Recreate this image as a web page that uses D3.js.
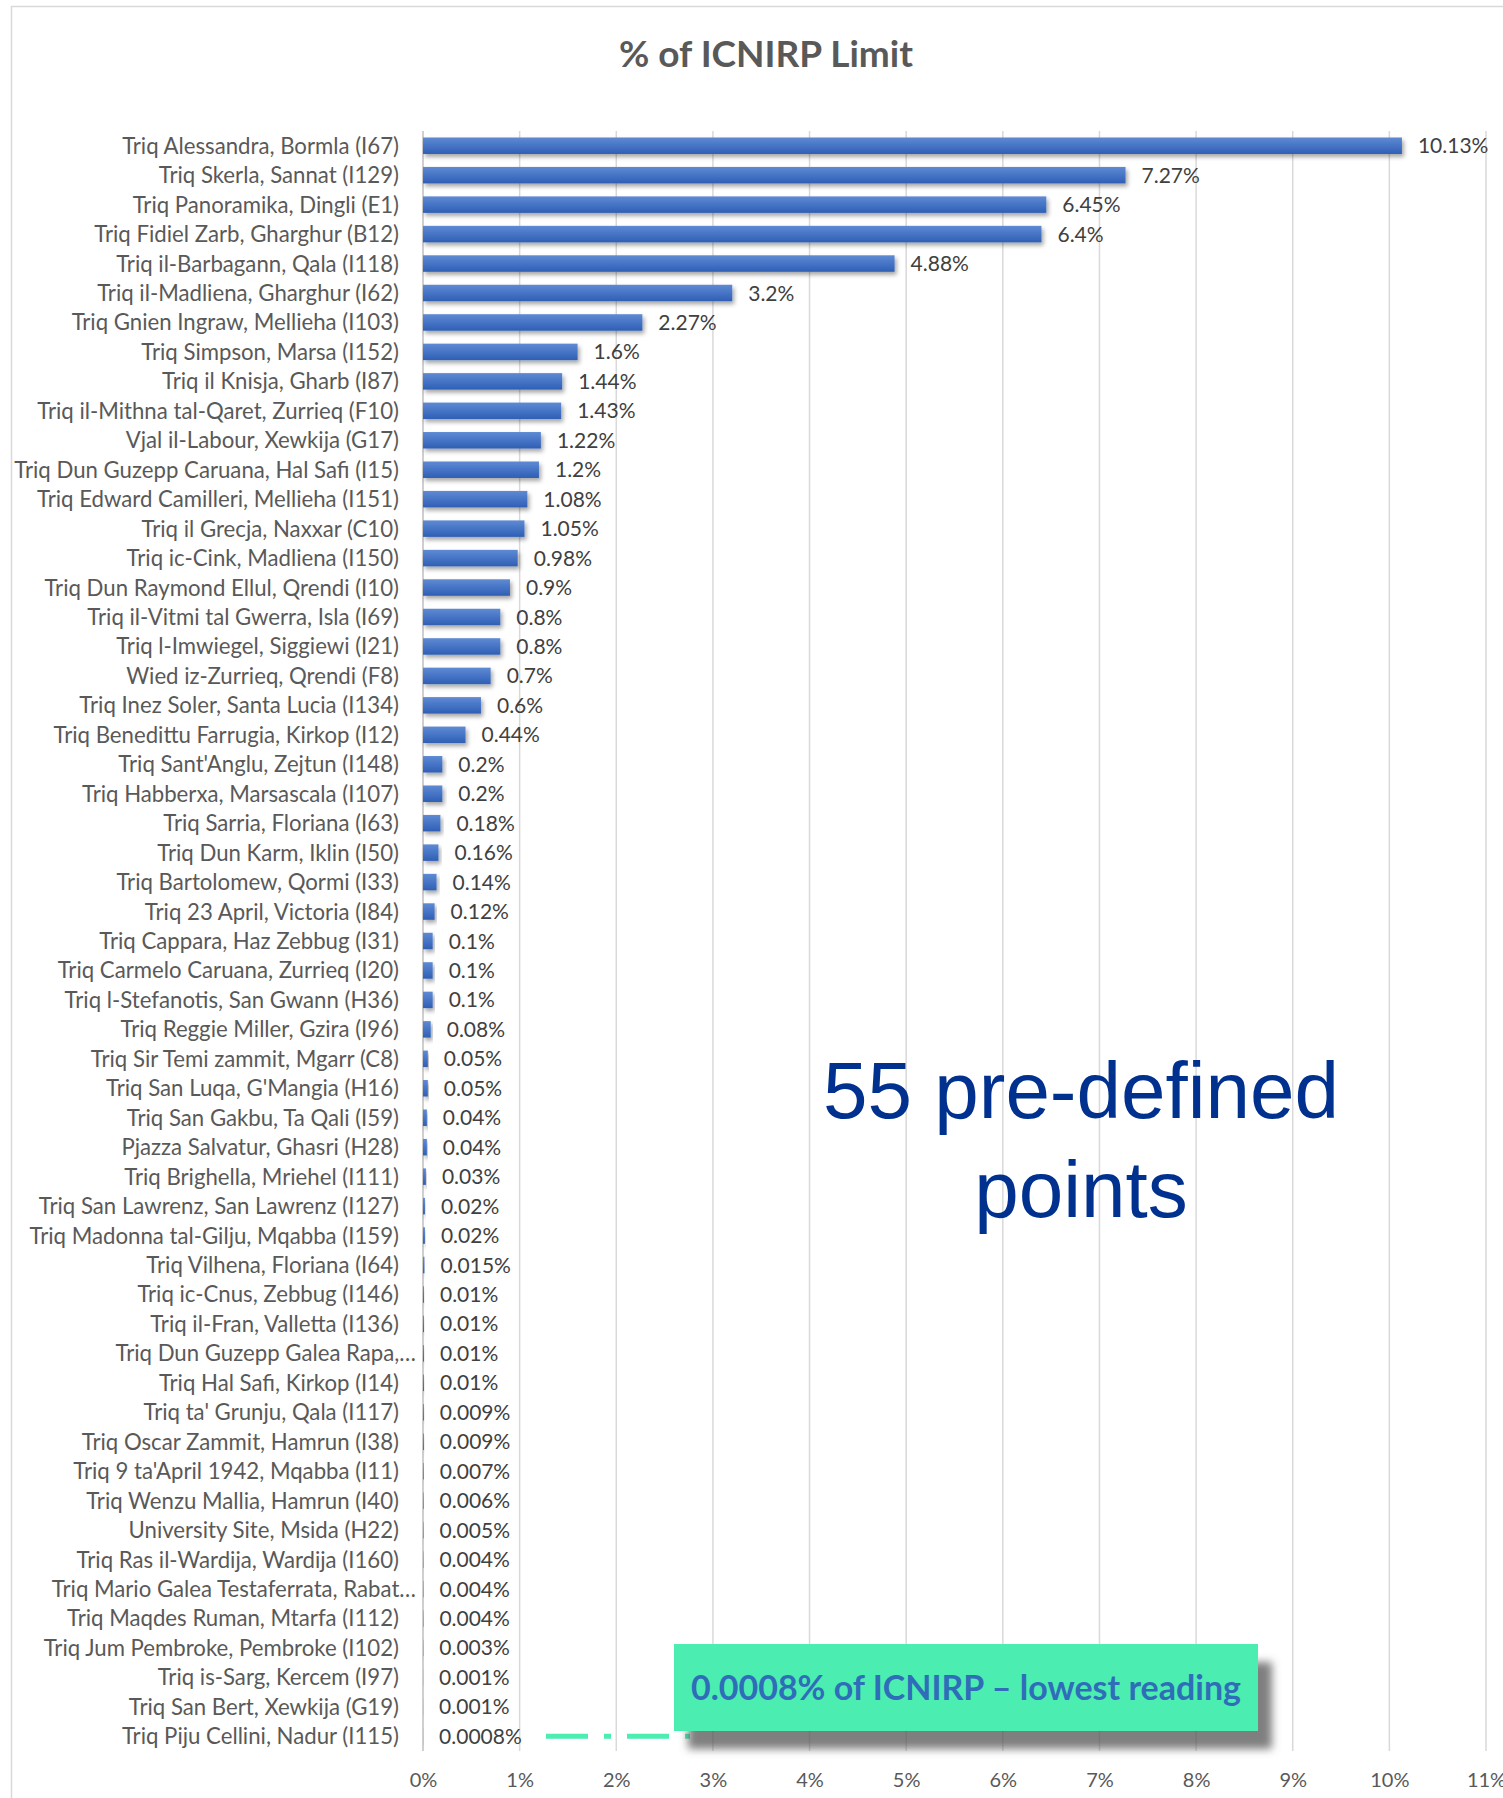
<!DOCTYPE html>
<html>
<head>
<meta charset="utf-8">
<script src="https://cdn.jsdelivr.net/npm/d3@7"></script>
<style>
  html, body { margin: 0; padding: 0; background: #fff; }
  svg { display: block; }
</style>
</head>
<body>
<svg id="chart" width="1503" height="1798"></svg>
<script>
// ---- Data ----
const categories = [
  "Triq Alessandra, Bormla (I67)",
  "Triq Skerla, Sannat (I129)",
  "Triq Panoramika, Dingli (E1)",
  "Triq Fidiel Zarb, Gharghur (B12)",
  "Triq il-Barbagann, Qala (I118)",
  "Triq il-Madliena, Gharghur (I62)",
  "Triq Gnien Ingraw, Mellieha (I103)",
  "Triq Simpson, Marsa (I152)",
  "Triq il Knisja, Gharb (I87)",
  "Triq il-Mithna tal-Qaret, Zurrieq (F10)",
  "Vjal il-Labour, Xewkija (G17)",
  "Triq Dun Guzepp Caruana, Hal Safi (I15)",
  "Triq Edward Camilleri, Mellieha (I151)",
  "Triq il Grecja, Naxxar (C10)",
  "Triq ic-Cink, Madliena (I150)",
  "Triq Dun Raymond Ellul, Qrendi (I10)",
  "Triq il-Vitmi tal Gwerra, Isla (I69)",
  "Triq l-Imwiegel, Siggiewi (I21)",
  "Wied iz-Zurrieq, Qrendi (F8)",
  "Triq Inez Soler, Santa Lucia (I134)",
  "Triq Benedittu Farrugia, Kirkop (I12)",
  "Triq Sant'Anglu, Zejtun (I148)",
  "Triq Habberxa, Marsascala (I107)",
  "Triq Sarria, Floriana (I63)",
  "Triq Dun Karm, Iklin (I50)",
  "Triq Bartolomew, Qormi (I33)",
  "Triq 23 April, Victoria (I84)",
  "Triq Cappara, Haz Zebbug (I31)",
  "Triq Carmelo Caruana, Zurrieq (I20)",
  "Triq l-Stefanotis, San Gwann (H36)",
  "Triq Reggie Miller, Gzira (I96)",
  "Triq Sir Temi zammit, Mgarr (C8)",
  "Triq San Luqa, G'Mangia (H16)",
  "Triq San Gakbu, Ta Qali (I59)",
  "Pjazza Salvatur, Ghasri (H28)",
  "Triq Brighella, Mriehel (I111)",
  "Triq San Lawrenz, San Lawrenz (I127)",
  "Triq Madonna tal-Gilju, Mqabba (I159)",
  "Triq Vilhena, Floriana (I64)",
  "Triq ic-Cnus, Zebbug (I146)",
  "Triq il-Fran, Valletta (I136)",
  "Triq Dun Guzepp Galea Rapa,…",
  "Triq Hal Safi, Kirkop (I14)",
  "Triq ta' Grunju, Qala (I117)",
  "Triq Oscar Zammit, Hamrun (I38)",
  "Triq 9 ta'April 1942, Mqabba (I11)",
  "Triq Wenzu Mallia, Hamrun (I40)",
  "University Site, Msida (H22)",
  "Triq Ras il-Wardija, Wardija (I160)",
  "Triq Mario Galea Testaferrata, Rabat…",
  "Triq Maqdes Ruman, Mtarfa (I112)",
  "Triq Jum Pembroke, Pembroke (I102)",
  "Triq is-Sarg, Kercem (I97)",
  "Triq San Bert, Xewkija (G19)",
  "Triq Piju Cellini, Nadur (I115)"
];
const values = [
  10.13, 7.27, 6.45, 6.4, 4.88, 3.2, 2.27, 1.6, 1.44, 1.43,
  1.22, 1.2, 1.08, 1.05, 0.98, 0.9, 0.8, 0.8, 0.7, 0.6,
  0.44, 0.2, 0.2, 0.18, 0.16, 0.14, 0.12, 0.1, 0.1, 0.1,
  0.08, 0.05, 0.05, 0.04, 0.04, 0.03, 0.02, 0.02, 0.015, 0.01,
  0.01, 0.01, 0.01, 0.009, 0.009, 0.007, 0.006, 0.005, 0.004, 0.004,
  0.004, 0.003, 0.001, 0.001, 0.0008
];
const xTicks = [0, 1, 2, 3, 4, 5, 6, 7, 8, 9, 10, 11];
const chartTitle = "% of ICNIRP Limit";
const noteLines = ["55 pre-defined", "points"];
const calloutText = "0.0008% of ICNIRP – lowest reading";

// ---- Layout ----
const svg = d3.select("#chart");
const plot = { left: 423, right: 1486, top: 131, bottom: 1751 };
const FONT = "Lato, 'Open Sans', sans-serif";

const x = d3.scaleLinear().domain([0, 11]).range([plot.left, plot.right]);
const y = d3.scaleBand().domain(categories).range([plot.top, plot.bottom])
  .paddingInner(0.44).paddingOuter(0.22);

const defs = svg.append("defs");
const grad = defs.append("linearGradient").attr("id", "barGrad")
  .attr("x1", 0).attr("y1", 0).attr("x2", 0).attr("y2", 1);
grad.append("stop").attr("offset", "0%").attr("stop-color", "#5f8ad3");
grad.append("stop").attr("offset", "55%").attr("stop-color", "#4472c4");
grad.append("stop").attr("offset", "100%").attr("stop-color", "#2f5fb4");

const shadow = defs.append("filter").attr("id", "barShadow")
  .attr("x", "-10%").attr("y", "-40%").attr("width", "130%").attr("height", "200%");
shadow.append("feDropShadow").attr("dx", 2).attr("dy", 3).attr("stdDeviation", 2)
  .attr("flood-color", "#000").attr("flood-opacity", 0.35);

const boxShadow = defs.append("filter").attr("id", "boxShadow")
  .attr("x", "-10%").attr("y", "-30%").attr("width", "130%").attr("height", "180%");
boxShadow.append("feDropShadow").attr("dx", 14).attr("dy", 18).attr("stdDeviation", 4)
  .attr("flood-color", "#555").attr("flood-opacity", 0.75);

// chart border
svg.append("rect").attr("x", 11.5).attr("y", 6.5).attr("width", 1600).attr("height", 1900)
  .attr("fill", "#fff").attr("stroke", "#d9d9d9").attr("stroke-width", 1.5);

// title
svg.append("text").attr("x", 766).attr("y", 67).attr("text-anchor", "middle")
  .attr("font-family", FONT).attr("font-weight", "bold").attr("font-size", 37)
  .attr("fill", "#595959").text(chartTitle);

// gridlines
svg.append("g").selectAll("line").data(xTicks).join("line")
  .attr("x1", d => x(d)).attr("x2", d => x(d))
  .attr("y1", plot.top).attr("y2", plot.bottom)
  .attr("stroke", d => d === 0 ? "#bfbfbf" : "#d9d9d9").attr("stroke-width", 1.5);

// x axis tick labels
const xAxis = d3.axisBottom(x).tickValues(xTicks).tickFormat(d => d + "%").tickSize(0).tickPadding(0);
const gx = svg.append("g").attr("transform", `translate(0,${plot.bottom + 22})`).call(xAxis);
gx.select(".domain").remove();
gx.selectAll("text").attr("font-family", FONT).attr("font-size", 20).attr("fill", "#595959")
  .attr("dy", "0.71em");

// category labels
const gy = svg.append("g").attr("transform", `translate(${plot.left - 24},0)`)
  .call(d3.axisLeft(y).tickSize(0).tickPadding(0));
gy.select(".domain").remove();
gy.selectAll("text").attr("font-family", FONT).attr("font-size", 22.2).attr("fill", "#595959")
  .attr("dy", "0.36em")
  .attr("dx", d => d.endsWith("…") ? 17 : 0);

// bars
svg.append("g").selectAll("rect").data(values).join("rect")
  .attr("x", x(0)).attr("y", (d, i) => y(categories[i]))
  .attr("width", d => x(d) - x(0)).attr("height", y.bandwidth())
  .attr("fill", "url(#barGrad)").attr("filter", "url(#barShadow)");

// value labels
svg.append("g").selectAll("text").data(values).join("text")
  .attr("x", d => x(d) + 16).attr("y", (d, i) => y(categories[i]) + y.bandwidth() / 2)
  .attr("dy", "0.36em").attr("font-family", FONT).attr("font-size", 21).attr("fill", "#404040")
  .text(d => String(d) + "%");

// big note
const note = svg.append("text").attr("text-anchor", "middle")
  .attr("font-family", "'Liberation Sans', Arial, sans-serif").attr("font-size", 80).attr("fill", "#00318f");
note.selectAll("tspan").data(noteLines).join("tspan")
  .attr("x", 1081).attr("y", (d, i) => 1118 + i * 99).text(d => d);

// dashed connector to lowest reading
const lastCat = categories[categories.length - 1];
const yLast = y(lastCat) + y.bandwidth() / 2;
svg.append("line").attr("x1", 546).attr("x2", 690).attr("y1", yLast).attr("y2", yLast)
  .attr("stroke", "#4bedb1").attr("stroke-width", 5).attr("stroke-dasharray", "42 16 7 16");

// callout box
svg.append("rect").attr("x", 674).attr("y", 1644).attr("width", 584).attr("height", 87)
  .attr("fill", "#4bedb1").attr("filter", "url(#boxShadow)");
svg.append("text").attr("x", 966).attr("y", 1688).attr("dy", "0.35em").attr("text-anchor", "middle")
  .attr("font-family", FONT).attr("font-weight", "bold").attr("font-size", 34).attr("fill", "#2f6db9")
  .text(calloutText);
</script>
</body>
</html>
